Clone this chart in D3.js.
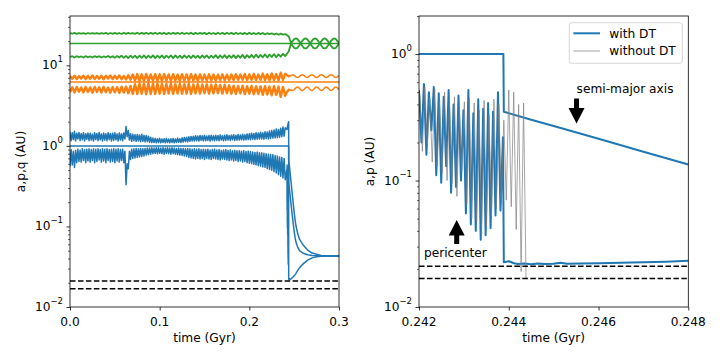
<!DOCTYPE html>
<html><head><meta charset="utf-8">
<script src="https://cdn.jsdelivr.net/npm/d3@7/dist/d3.min.js"></script>
<style>
body{margin:0;background:#fff;}
svg{display:block;font-family:"DejaVu Sans",sans-serif;}
</style></head><body>
<svg id="chart" width="720" height="360"></svg>
<script>
// ---------------- DATA ----------------
// Inner planet (blue), left panel: sampled every BLUE_STEP Gyr from t=0
const BLUE_STEP = 0.00125;
const blueApoPre = [1.50,1.16,1.46,1.20,1.52,1.15,1.44,1.22,1.47,1.17,
 1.43,1.19,1.46,1.15,1.42,1.21,1.45,1.16,1.44,1.18,
 1.40,1.15,1.46,1.20,1.43,1.16,1.47,1.19,1.41,1.15,
 1.45,1.18,1.42,1.16,1.46,1.20,1.43,1.15,1.44,1.17,
 1.46,1.19,1.41,1.15,1.45,1.18,1.42,1.16,1.45,1.22,
 1.74,1.30,1.55,1.18,1.42,1.14,1.40,1.16,1.38,1.14,
 1.39,1.15,1.37,1.13,1.40,1.14,1.36,1.12,1.35,1.13,
 1.32,1.11,1.28,1.10,1.25,1.10,1.24,1.09,1.23,1.10,
 1.24,1.09,1.22,1.10,1.23,1.09,1.24,1.10,1.22,1.09,
 1.23,1.10,1.24,1.09,1.22,1.10,1.25,1.11,1.23,1.10,
 1.26,1.12,1.27,1.13,1.28,1.12,1.30,1.14,1.31,1.15,
 1.32,1.15,1.34,1.16,1.33,1.15,1.35,1.17,1.34,1.16,
 1.36,1.16,1.33,1.17,1.35,1.15,1.36,1.17,1.34,1.16,
 1.36,1.17,1.35,1.16,1.37,1.18,1.34,1.16,1.36,1.17,
 1.38,1.18,1.35,1.17,1.37,1.19,1.38,1.17,1.36,1.18,
 1.39,1.18,1.37,1.19,1.40,1.18,1.38,1.19,1.41,1.20,
 1.42,1.19,1.44,1.21,1.43,1.20,1.46,1.21,1.45,1.22,
 1.48,1.22,1.46,1.21,1.50,1.23,1.49,1.22,1.53,1.24,
 1.55,1.25,1.58,1.26,1.62,1.27,1.60,1.28,1.66,1.30,
 1.72,1.32,1.68];
const bluePeriPre = [0.56,0.90,0.58,0.86,0.54,0.88,0.62,0.91,0.64,0.89,
 0.63,0.92,0.66,0.90,0.62,0.91,0.65,0.92,0.63,0.90,
 0.66,0.92,0.62,0.91,0.64,0.92,0.67,0.90,0.63,0.92,
 0.65,0.91,0.62,0.92,0.66,0.90,0.63,0.91,0.64,0.92,
 0.62,0.91,0.65,0.92,0.63,0.90,0.66,0.91,0.62,0.86,
 0.33,0.60,0.52,0.86,0.68,0.91,0.70,0.92,0.71,0.93,
 0.72,0.92,0.73,0.93,0.74,0.92,0.75,0.93,0.77,0.94,
 0.78,0.94,0.79,0.95,0.80,0.94,0.81,0.95,0.80,0.95,
 0.81,0.94,0.80,0.95,0.79,0.94,0.81,0.95,0.80,0.94,
 0.79,0.95,0.80,0.94,0.79,0.93,0.78,0.94,0.77,0.93,
 0.76,0.93,0.75,0.92,0.74,0.93,0.72,0.92,0.71,0.91,
 0.70,0.92,0.69,0.91,0.70,0.92,0.69,0.90,0.70,0.91,
 0.68,0.90,0.70,0.91,0.69,0.89,0.68,0.90,0.70,0.91,
 0.69,0.89,0.68,0.90,0.67,0.88,0.69,0.89,0.68,0.90,
 0.67,0.88,0.66,0.89,0.67,0.87,0.65,0.88,0.66,0.87,
 0.64,0.87,0.65,0.86,0.63,0.87,0.64,0.85,0.62,0.86,
 0.61,0.85,0.60,0.84,0.59,0.83,0.58,0.84,0.57,0.82,
 0.56,0.82,0.55,0.81,0.54,0.80,0.52,0.79,0.51,0.78,
 0.50,0.78,0.48,0.76,0.46,0.75,0.44,0.73,0.42,0.72,
 0.40,0.70,0.38];

// Outer planets (orange, green), sampled every OUTER_STEP Gyr from t=0
const OUTER_STEP = 0.0025;
const orangeApoPre = [7.40,6.80,7.45,6.75,7.35,6.85,7.45,6.78,7.40,6.82,
 7.50,6.75,7.38,6.80,7.45,6.72,7.42,6.85,7.48,6.75,
 7.42,6.80,7.50,6.72,7.40,6.70,7.55,6.65,7.70,6.45,
 7.80,6.40,7.75,6.42,7.82,6.38,7.70,6.45,7.78,6.40,
 7.75,6.42,7.80,6.45,7.72,6.40,7.78,6.48,7.70,6.42,
 7.76,6.45,7.72,6.40,7.80,6.48,7.70,6.44,7.75,6.50,
 7.68,6.45,7.74,6.52,7.70,6.48,7.66,6.55,7.72,6.50,
 7.65,6.58,7.70,6.55,7.75,6.60,7.68,6.62,7.80,6.55,
 7.72,6.60,7.85,6.58,7.70,6.62,7.90,6.55,7.75,6.50,
 7.95,6.58,7.80,6.50,8.10,6.60,7.85];
const orangePeriPre = [4.65,5.35,4.60,5.40,4.70,5.30,4.62,5.38,4.68,5.32,
 4.58,5.40,4.66,5.35,4.60,5.42,4.64,5.30,4.58,5.38,
 4.62,5.35,4.55,5.42,4.60,5.45,4.50,5.55,4.42,5.85,
 4.40,5.95,4.45,5.90,4.38,6.00,4.42,5.92,4.40,5.95,
 4.45,5.90,4.40,5.88,4.46,5.95,4.42,5.85,4.48,5.90,
 4.44,5.85,4.46,5.92,4.40,5.80,4.48,5.86,4.45,5.78,
 4.50,5.82,4.46,5.75,4.48,5.80,4.52,5.70,4.46,5.75,
 4.50,5.65,4.45,5.60,4.42,5.55,4.48,5.58,4.40,5.50,
 4.45,5.55,4.38,5.50,4.42,5.48,4.30,5.52,4.35,5.45,
 4.25,5.50,4.30,5.45,4.05,5.40,4.20];
const greenApoPre = [25.2,24.7,25.3,24.6,25.2,24.7,25.1,24.6,25.2,24.8,
 25.1,24.7,25.2,24.6,25.2,24.7,25.3,24.5,25.2,24.6,
 25.3,24.6,25.2,24.5,25.4,24.6,25.3,24.7,25.2,24.6,
 25.4,24.5,25.3,24.6,25.4,24.5,25.3,24.6,25.4,24.5,
 25.3,24.6,25.4,24.4,25.3,24.5,25.4,24.6,25.3,24.5,
 25.4,24.5,25.2,24.6,25.4,24.4,25.3,24.5,25.4,24.6,
 25.3,24.4,25.4,24.5,25.2,24.4,25.4,24.5,25.3,24.4,
 25.4,24.5,25.3,24.4,25.4,24.5,25.2,24.4,25.3,24.3,
 25.4,24.4,25.2,24.3,25.3,24.4,25.2,24.2,25.1,24.3,
 25.0,24.1,24.9,24.0,24.8,24.1,24.5];
const greenPeriPre = [12.6,13.0,12.5,13.0,12.6,12.9,12.5,13.0,12.6,12.9,
 12.5,13.0,12.6,13.0,12.5,12.9,12.6,13.1,12.5,13.0,
 12.4,13.1,12.5,13.2,12.4,13.1,12.3,13.2,12.4,13.2,
 12.3,13.2,12.4,13.3,12.3,13.2,12.4,13.3,12.3,13.2,
 12.4,13.3,12.3,13.2,12.4,13.3,12.3,13.3,12.4,13.2,
 12.3,13.3,12.4,13.2,12.3,13.3,12.4,13.2,12.3,13.3,
 12.4,13.3,12.3,13.2,12.4,13.4,12.3,13.3,12.4,13.4,
 12.3,13.3,12.4,13.4,12.3,13.3,12.4,13.5,12.3,13.4,
 12.5,13.5,12.4,13.6,12.5,13.5,12.6,13.7,12.5,13.6,
 12.7,13.8,12.6,13.7,12.8,13.9,13.0];

// constant semi-major axes (AU)
const semiOrange = 6.2;
const semiGreen = 18.7;
const semiBluePre = 1.0;

// outer planets after the inner planet's capture
const outerPostTimes = [0.2417,0.2440,0.2454,0.2465,0.24828,0.25007,0.25185,0.25363,0.25542,0.2572,
 0.25898,0.26077,0.26255,0.26433,0.26612,0.2679,0.26968,0.27147,0.27325,0.27503,
 0.27682,0.2786,0.28038,0.28217,0.28395,0.28573,0.28752,0.2893,0.29108,0.29287,
 0.29465,0.29643,0.29822,0.3];
const greenApoPost = [23.8,22.8,20.6,18.7,
 20.0,21.2,21.6,21.2,20.0,18.7, 20.0,21.2,21.6,21.2,20.0,18.7,
 20.0,21.2,21.6,21.2,20.0,18.7, 20.0,21.2,21.6,21.2,20.0,18.7,
 20.0,21.2,21.6,21.2,20.0,18.7];
const greenPeriPost = [13.8,15.0,17.0,18.7,
 17.5,16.5,16.2,16.5,17.5,18.7, 17.5,16.5,16.2,16.5,17.5,18.7,
 17.5,16.5,16.2,16.5,17.5,18.7, 17.5,16.5,16.2,16.5,17.5,18.7,
 17.5,16.5,16.2,16.5,17.5,18.7];
const orangeApoPost = [7.60,7.30,7.50,7.49,
 7.63,7.49,7.21,7.07,7.21,7.49, 7.63,7.49,7.21,7.07,7.21,7.49,
 7.63,7.49,7.21,7.07,7.21,7.49, 7.63,7.49,7.21,7.07,7.21,7.49,
 7.63,7.49,7.21,7.07,7.21,7.49];
const orangePeriPost = [4.60,5.00,4.85,4.99,
 4.86,4.99,5.25,5.38,5.25,4.99, 4.86,4.99,5.25,5.38,5.25,4.99,
 4.86,4.99,5.25,5.38,5.25,4.99, 4.86,4.99,5.25,5.38,5.25,4.99,
 4.86,4.99,5.25,5.38,5.25,4.99];

// inner planet apocenter just before capture
const blueApoFinalTimes = [0.2420,0.2430,0.24385];
const blueApoFinal = [1.60,1.85,2.0];

// Zoomed window: pericenter sampled every ZOOM_STEP Gyr
const ZOOM_STEP = 0.000055;
const ZOOM_T0_DT = 0.242, ZOOM_T0_NODT = 0.24202;
const periWithDT = [0.52,0.20,0.58,0.16,0.50,0.25,0.55,0.11,0.49,0.096,
 0.46,0.13,0.52,0.08,0.40,0.089,0.47,0.10,0.36,0.055,
 0.52,0.045,0.34,0.040,0.44,0.034,0.37,0.037,0.41,0.042,
 0.35,0.053,0.50,0.058,0.22];
const periWithoutDT = [0.47,0.17,0.55,0.19,0.45,0.14,0.53,0.13,0.43,0.115,
 0.50,0.10,0.44,0.095,0.46,0.075,0.38,0.12,0.42,0.065,
 0.45,0.05,0.41,0.047,0.36,0.038,0.43,0.044,0.33,0.05,
 0.44,0.06,0.40,0.065,0.30,0.07,0.52,0.062,0.50,0.041,
 0.40,0.0191,0.41,0.0167];

// after capture (with dynamical tides)
const captureTime = 0.24389;
const capTimes = [0.24389,0.2445,0.2450,0.2460,0.2470,0.2480,0.2490,0.2500,0.2510,0.2520,
 0.2540,0.2560,0.2600,0.2650,0.2700,0.2800,0.3000];
const semiPost = [0.350,0.302,0.270,0.214,0.169,0.134,0.107,0.087,0.073,0.064,
 0.055,0.050,0.0465,0.0445,0.0437,0.0432,0.0430];
const apoPost = [0.678,0.582,0.518,0.406,0.316,0.245,0.190,0.150,0.121,0.102,
 0.081,0.069,0.059,0.051,0.0467,0.0437,0.0430];
const periPostTimes = [0.24389,0.2440,0.24412,0.2442,0.24435,0.2445,0.24465,0.2448,0.2450,0.24515,
 0.2453,0.2456,0.2460,0.2465,0.2470,0.2475,0.2480,0.249,0.250,0.251,
 0.252,0.254,0.256,0.260,0.265,0.270,0.275,0.280,0.290,0.300];
const periPost = [0.0226,0.0230,0.0222,0.0219,0.0221,0.0218,0.0221,0.0219,0.0220,0.0224,
 0.0220,0.0221,0.0222,0.0224,0.0226,0.0228,0.0232,0.0238,0.0245,0.0252,
 0.0262,0.0285,0.0308,0.0343,0.0382,0.0407,0.0421,0.0427,0.0430,0.0430];

// horizontal reference levels (AU)
const dashedLevels = [0.021, 0.0168];

// ticks
const leftXTicks = [0, 0.1, 0.2, 0.3], leftXLabels = ["0.0","0.1","0.2","0.3"];
const rightXTicks = [0.242, 0.244, 0.246, 0.248], rightXLabels = ["0.242","0.244","0.246","0.248"];
const leftYExps = [-2, -1, 0, 1];
const rightYExps = [-2, -1, 0];

const legendLabels = ["with DT", "without DT"];

// ---------------- DRAW ----------------
const C = {blue:"#1f77b4", orange:"#ff7f0e", green:"#2ca02c", gray:"#808080"};
const FS = 12.2;
const svg = d3.select("#chart");

const xL = d3.scaleLinear([0, 0.3], [70, 339]);
const yL = d3.scaleLog([0.01, 41], [307, 16]);
const xR = d3.scaleLinear([0.242, 0.248], [419, 688.3]);
const yR = d3.scaleLog([0.01, 2.0], [307, 16]);

const pts = (ts, vs) => ts.map((t, i) => [t, vs[i]]);
const regular = (t0, step, vs) => vs.map((v, i) => [t0 + i * step, v]);

function clip(id, x, y) {
  svg.append("clipPath").attr("id", id).append("rect")
    .attr("x", x.range()[0]).attr("y", y.range()[1])
    .attr("width", x.range()[1] - x.range()[0]).attr("height", y.range()[0] - y.range()[1]);
}
clip("clipL", xL, yL); clip("clipR", xR, yR);

function addLine(g, x, y, data, color, width, curve, dash) {
  const line = d3.line().x(d => x(d[0])).y(d => y(d[1])).curve(curve || d3.curveLinear);
  const p = g.append("path").datum(data).attr("d", line).attr("fill", "none")
    .attr("stroke", color).attr("stroke-width", width)
    .attr("stroke-linejoin", "round");
  if (dash) p.attr("stroke-dasharray", dash);
  return p;
}

// ---- left panel ----
const gL = svg.append("g").attr("clip-path", "url(#clipL)");
const zoomWithDT = regular(ZOOM_T0_DT, ZOOM_STEP, periWithDT);
// green
addLine(gL, xL, yL, [[0, semiGreen], [0.3, semiGreen]], C.green, 1.5);
addLine(gL, xL, yL, regular(0, OUTER_STEP, greenApoPre).concat(pts(outerPostTimes, greenApoPost)), C.green, 1.8);
addLine(gL, xL, yL, regular(0, OUTER_STEP, greenPeriPre).concat(pts(outerPostTimes, greenPeriPost)), C.green, 1.8);
// orange
addLine(gL, xL, yL, [[0, semiOrange], [0.3, semiOrange]], C.orange, 1.5);
addLine(gL, xL, yL, regular(0, OUTER_STEP, orangeApoPre).concat(pts(outerPostTimes.slice(0,3), orangeApoPost.slice(0,3))), C.orange, 2.4);
addLine(gL, xL, yL, pts(outerPostTimes.slice(2), orangeApoPost.slice(2)), C.orange, 1.5, d3.curveMonotoneX);
addLine(gL, xL, yL, regular(0, OUTER_STEP, orangePeriPre).concat(pts(outerPostTimes.slice(0,3), orangePeriPost.slice(0,3))), C.orange, 2.4);
addLine(gL, xL, yL, pts(outerPostTimes.slice(2), orangePeriPost.slice(2)), C.orange, 1.5, d3.curveMonotoneX);
// blue
addLine(gL, xL, yL, [[0, semiBluePre], [captureTime - 0.00001, semiBluePre]].concat(pts(capTimes, semiPost)), C.blue, 1.5);
addLine(gL, xL, yL, regular(0, BLUE_STEP, blueApoPre).concat(pts(blueApoFinalTimes, blueApoFinal), pts(capTimes, apoPost)), C.blue, 1.5);
addLine(gL, xL, yL, regular(0, BLUE_STEP, bluePeriPre).concat(zoomWithDT, pts(periPostTimes, periPost)), C.blue, 1.5);
dashedLevels.forEach(v => addLine(gL, xL, yL, [[0, v], [0.3, v]], "#000", 1.5, null, "5.55,2.4"));

// ---- right panel ----
const gR = svg.append("g").attr("clip-path", "url(#clipR)");
addLine(gR, xR, yR, [[ZOOM_T0_DT, semiBluePre], [captureTime - 0.00001, semiBluePre]].concat(pts(capTimes, semiPost)), C.blue, 2);
addLine(gR, xR, yR, zoomWithDT.concat(pts(periPostTimes, periPost)), C.blue, 2);
addLine(gR, xR, yR, regular(ZOOM_T0_NODT, ZOOM_STEP, periWithoutDT), C.gray, 0.7);
dashedLevels.forEach(v => addLine(gR, xR, yR, [[0.242, v], [0.248, v]], "#000", 1.5, null, "5.55,2.4"));

// ---- axes ----
function axes(x, y, xTicks, xLabels, yExps, yLabel, yLabelX) {
  const g = svg.append("g");
  const [x0, x1] = x.range(), [yb, yt] = y.range();
  const gx = g.append("g").attr("transform", `translate(0,${yb})`)
    .call(d3.axisBottom(x).tickValues(xTicks).tickSize(3.5).tickFormat(""));
  gx.select(".domain").remove();
  gx.selectAll("line").attr("stroke", "#000").attr("stroke-width", 0.8);
  xTicks.forEach((t, i) => g.append("text").attr("x", x(t)).attr("y", 326)
    .attr("text-anchor", "middle").attr("font-size", FS).text(xLabels[i]));
  const majors = yExps.map(e => Math.pow(10, e));
  const minors = y.ticks().filter(v => Math.abs(Math.log10(v) - Math.round(Math.log10(v))) > 1e-6);
  const gy = g.append("g").attr("transform", `translate(${x0},0)`)
    .call(d3.axisLeft(y).tickValues(majors).tickSize(3.5).tickFormat(""));
  gy.select(".domain").remove();
  gy.selectAll("line").attr("stroke", "#000").attr("stroke-width", 0.8);
  const gy2 = g.append("g").attr("transform", `translate(${x0},0)`)
    .call(d3.axisLeft(y).tickValues(minors).tickSize(2).tickFormat(""));
  gy2.select(".domain").remove();
  gy2.selectAll("line").attr("stroke", "#000").attr("stroke-width", 0.6);
  yExps.forEach(e => {
    const t = g.append("text").attr("x", x0 - 7).attr("y", y(Math.pow(10, e)) + FS * 0.33)
      .attr("text-anchor", "end").attr("font-size", FS);
    t.append("tspan").text("10");
    t.append("tspan").attr("dy", -0.6 * FS).attr("font-size", FS * 0.7)
      .text(e < 0 ? "\u2212" + Math.abs(e) : String(e));
  });
  g.append("rect").attr("x", x0).attr("y", yt).attr("width", x1 - x0).attr("height", yb - yt)
    .attr("fill", "none").attr("stroke", "#000").attr("stroke-width", 0.8);
  g.append("text").attr("x", (x0 + x1) / 2).attr("y", 341.5).attr("text-anchor", "middle")
    .attr("font-size", FS).text("time (Gyr)");
  g.append("text").attr("transform", `translate(${yLabelX},${(yb + yt) / 2}) rotate(-90)`)
    .attr("text-anchor", "middle").attr("font-size", FS).text(yLabel);
}
axes(xL, yL, leftXTicks, leftXLabels, leftYExps, "a,p,q (AU)", 25);
axes(xR, yR, rightXTicks, rightXLabels, rightYExps, "a,p (AU)", 374);

// ---- annotations ----
function arrow(x, y, t, vTail, vTip) {
  const px = x(t), yt = y(vTail), yp = y(vTip);
  const d = Math.sign(yp - yt), hl = 15.5, hw = 8, sw = 2.5;
  const neck = yp - d * hl;
  svg.append("polygon").attr("fill", "#000").attr("points",
    [[px - sw, yt], [px - sw, neck], [px - hw, neck], [px, yp], [px + hw, neck], [px + sw, neck], [px + sw, yt]]
      .map(p => p.join(",")).join(" "));
}
arrow(xR, yR, 0.24551, 0.446, 0.283);
svg.append("text").attr("x", xR(0.24551)).attr("y", yR(0.494)).attr("font-size", FS).text("semi-major axis");
arrow(xR, yR, 0.24284, 0.0315, 0.0487);
svg.append("text").attr("x", xR(0.24211)).attr("y", yR(0.025)).attr("font-size", FS).text("pericenter");

// ---- legend ----
const lg = svg.append("g");
lg.append("rect").attr("x", 569.3).attr("y", 22.7).attr("width", 113).attr("height", 40.6)
  .attr("rx", 2.5).attr("fill", "#fff").attr("fill-opacity", 0.8).attr("stroke", "#cccccc").attr("stroke-width", 0.8);
[[C.blue, 2, 33.3], [C.gray, 0.7, 51]].forEach((s, i) => {
  lg.append("line").attr("x1", 573.3).attr("x2", 600).attr("y1", s[2]).attr("y2", s[2])
    .attr("stroke", s[0]).attr("stroke-width", s[1]);
  lg.append("text").attr("x", 609.3).attr("y", s[2] + 4.2).attr("font-size", FS).text(legendLabels[i]);
});
</script></body></html>
